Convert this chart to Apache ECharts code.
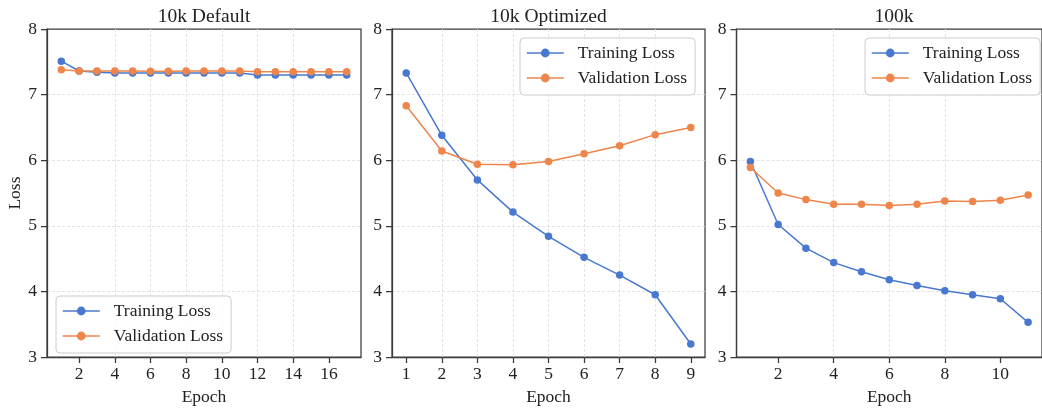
<!DOCTYPE html>
<html>
<head>
<meta charset="utf-8">
<script src="https://cdn.jsdelivr.net/npm/echarts@6/dist/echarts.min.js"></script>
<style>
html,body{margin:0;padding:0;background:#fff;}
#c{width:1042px;height:411px;}
</style>
</head>
<body>
<div id="c"></div>
<script>
// ---- data ----
const titles = ['10k Default', '10k Optimized', '100k'];
const epochsA = [1,2,3,4,5,6,7,8,9,10,11,12,13,14,15,16,17];
const trainA = [7.51,7.36,7.34,7.33,7.33,7.33,7.33,7.33,7.33,7.33,7.33,7.30,7.30,7.30,7.30,7.30,7.30];
const valA   = [7.38,7.36,7.36,7.36,7.36,7.355,7.355,7.36,7.36,7.36,7.36,7.35,7.35,7.35,7.35,7.35,7.35];
const epochsB = [1,2,3,4,5,6,7,8,9];
const trainB = [7.33,6.38,5.70,5.21,4.84,4.52,4.25,3.95,3.20];
const valB   = [6.83,6.14,5.94,5.93,5.98,6.10,6.22,6.39,6.50];
const epochsC = [1,2,3,4,5,6,7,8,9,10,11];
const trainC = [5.98,5.02,4.66,4.44,4.30,4.18,4.09,4.01,3.95,3.89,3.53];
const valC   = [5.89,5.50,5.40,5.33,5.33,5.31,5.33,5.38,5.37,5.39,5.47];
const xTicksA = [2,4,6,8,10,12,14,16];
const xTicksB = [1,2,3,4,5,6,7,8,9];
const xTicksC = [2,4,6,8,10];

const BLUE = '#4878d0', ORANGE = '#ee854a';
const FONT = '"Liberation Serif","Times New Roman",serif';
const TXT = '#222222';
const SPINE = '#3a3a3a';
const GRIDC = '#dcdcdc';

const pairs = (xs, ys) => xs.map((x, i) => [x, ys[i]]);

const panels = [
  {x: epochsA, tr: trainA, va: valA, ticks: xTicksA, min: 0.2, max: 17.8, left: 47, width: 314, legend: {left: 56, top: 296}},
  {x: epochsB, tr: trainB, va: valB, ticks: xTicksB, min: 0.6, max: 9.4, left: 392, width: 313, legend: {left: 520, top: 38}},
  {x: epochsC, tr: trainC, va: valC, ticks: xTicksC, min: 0.5, max: 11.5, left: 736.5, width: 315, legend: {left: 865, top: 38}}
];

const grid = [], xAxis = [], yAxis = [], series = [], title = [], legend = [];
panels.forEach((p, i) => {
  grid.push({left: p.left, width: p.width, top: 29, height: 332, show: true,
    borderColor: SPINE, borderWidth: 1.25, backgroundColor: 'transparent', containLabel: false});
  title.push({text: titles[i], left: p.left + p.width / 2, top: 7, textAlign: 'center', padding: 0,
    textStyle: {fontFamily: FONT, fontSize: 19.5, fontWeight: 'normal', color: TXT}});
  xAxis.push({type: 'value', gridIndex: i, min: p.min, max: p.max,
    name: 'Epoch', nameLocation: 'middle', nameGap: 26,
    nameTextStyle: {fontFamily: FONT, fontSize: 17.5, color: TXT},
    axisLine: {show: true, lineStyle: {color: SPINE, width: 1.25}},
    axisTick: {show: true, length: 6, lineStyle: {color: SPINE, width: 1.25}, customValues: p.ticks},
    axisLabel: {customValues: p.ticks, fontFamily: FONT, fontSize: 17.5, color: TXT, margin: 8},
    splitLine: {show: true, showMinLine: false, showMaxLine: false, lineStyle: {color: GRIDC, width: 0.8, type: [3, 2]}}
  });
  yAxis.push({type: 'value', gridIndex: i, min: 3, max: 8, interval: 1,
    name: i === 0 ? 'Loss' : '', nameLocation: 'middle', nameGap: 21, nameRotate: 90,
    nameTextStyle: {fontFamily: FONT, fontSize: 17.5, color: TXT},
    axisLine: {show: true, lineStyle: {color: SPINE, width: 1.25}},
    axisTick: {show: true, length: 6, lineStyle: {color: SPINE, width: 1.25}},
    axisLabel: {fontFamily: FONT, fontSize: 17.5, color: TXT, margin: 10},
    splitLine: {show: true, showMinLine: false, showMaxLine: false, lineStyle: {color: GRIDC, width: 0.8, type: [3, 2]}}
  });
  series.push({name: 'Training Loss', type: 'line', xAxisIndex: i, yAxisIndex: i,
    data: pairs(p.x, p.tr), symbol: 'circle', symbolSize: 7.5, color: BLUE,
    lineStyle: {width: 1.5, color: BLUE}, itemStyle: {color: BLUE}, animation: false, z: 3});
  series.push({name: 'Validation Loss', type: 'line', xAxisIndex: i, yAxisIndex: i,
    data: pairs(p.x, p.va), symbol: 'circle', symbolSize: 7.5, color: ORANGE,
    lineStyle: {width: 1.5, color: ORANGE}, itemStyle: {color: ORANGE}, animation: false, z: 4});
  legend.push({data: ['Training Loss', 'Validation Loss'], orient: 'vertical',
    left: p.legend.left, top: p.legend.top, padding: [6, 8, 8, 6], itemGap: 7,
    itemWidth: 37, itemHeight: 11,
    lineStyle: {width: 1.5},
    backgroundColor: 'rgba(255,255,255,0.8)', borderColor: '#cccccc', borderWidth: 1, borderRadius: 4,
    textStyle: {fontFamily: FONT, fontSize: 17.5, color: TXT, padding: [0, 0, 0, 9]},
    selectedMode: false, z: 10});
});

const chart = echarts.init(document.getElementById('c'), null, {renderer: 'canvas'});
chart.setOption({backgroundColor: '#ffffff', animation: false, title, grid, xAxis, yAxis, series, legend});
</script>
</body>
</html>
